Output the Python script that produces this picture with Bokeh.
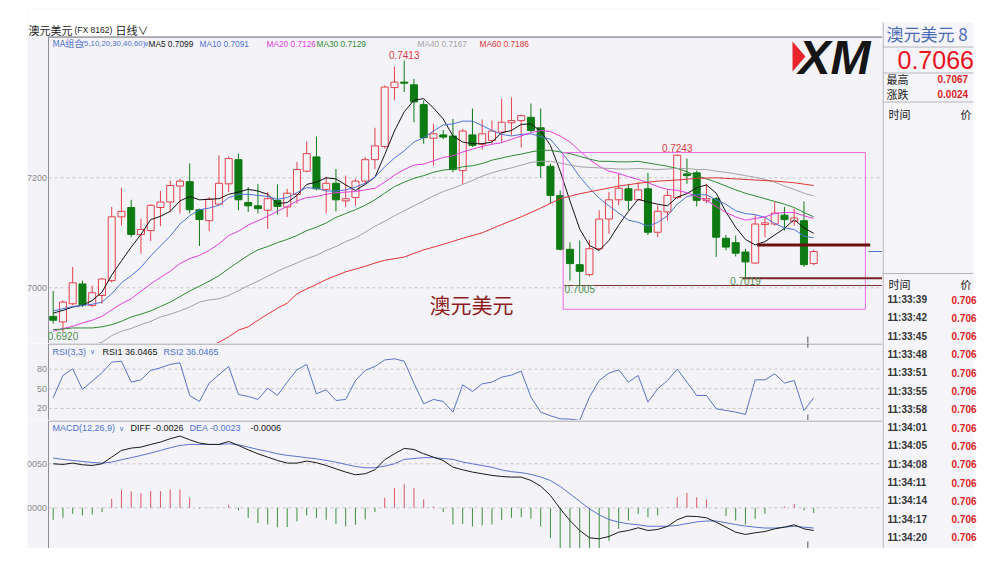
from bokeh.plotting import figure
from bokeh.models import Range1d, Spacer
from bokeh.layouts import row, column
from bokeh.core.properties import value
from bokeh.embed import file_html
from bokeh.resources import INLINE

# ---------------- data ----------------
OPEN = [0.6948, 0.6938, 0.6971, 0.7007, 0.6968, 0.6986, 0.7013, 0.7129, 0.7146, 0.7097,
        0.7104, 0.7146, 0.7156, 0.7185, 0.7193, 0.7142, 0.7122, 0.7152, 0.7189, 0.7233,
        0.7155, 0.7149, 0.7141, 0.7159, 0.7147, 0.7170, 0.7212, 0.7238, 0.7179, 0.7190,
        0.7158, 0.7164, 0.7194, 0.7233, 0.7257, 0.7364, 0.7374, 0.7369, 0.7333, 0.7272,
        0.7278, 0.7276, 0.7213, 0.7278, 0.7261, 0.7268, 0.7283, 0.7300, 0.7304, 0.7310,
        0.7291, 0.7221, 0.7168, 0.7070, 0.7042, 0.7024, 0.7071, 0.7125, 0.7160, 0.7180,
        0.7160, 0.7180, 0.7101, 0.7138, 0.7164, 0.7207, 0.7209, 0.7159, 0.7162, 0.7090,
        0.7082, 0.7065, 0.7045, 0.7115, 0.7116, 0.7132, 0.7121, 0.7122, 0.7044]
HIGH = [0.6994, 0.6977, 0.7038, 0.7013, 0.7004, 0.7018, 0.7147, 0.7182, 0.7160, 0.7126,
        0.7152, 0.7176, 0.7195, 0.7198, 0.7226, 0.7144, 0.7165, 0.7241, 0.7239, 0.7244,
        0.7183, 0.7189, 0.7174, 0.7188, 0.7180, 0.7229, 0.7266, 0.7275, 0.7202, 0.7216,
        0.7204, 0.7198, 0.7238, 0.7291, 0.7368, 0.7402, 0.7413, 0.7380, 0.7341, 0.7298,
        0.7287, 0.7307, 0.7289, 0.7326, 0.7306, 0.7304, 0.7344, 0.7346, 0.7315, 0.7335,
        0.7326, 0.7226, 0.7177, 0.7083, 0.7086, 0.7087, 0.7141, 0.7174, 0.7207, 0.7189,
        0.7192, 0.7209, 0.7150, 0.7177, 0.7243, 0.7235, 0.7213, 0.7189, 0.7165, 0.7096,
        0.7095, 0.7071, 0.7132, 0.7128, 0.7156, 0.7147, 0.7144, 0.7157, 0.7069]
LOW = [0.6935, 0.6920, 0.6968, 0.6965, 0.6965, 0.6971, 0.7010, 0.7113, 0.7092, 0.7062,
       0.7085, 0.7112, 0.7138, 0.7135, 0.7135, 0.7076, 0.7103, 0.7150, 0.7174, 0.7141,
       0.7138, 0.7135, 0.7107, 0.7133, 0.7129, 0.7153, 0.7210, 0.7177, 0.7135, 0.7139,
       0.7147, 0.7149, 0.7188, 0.7216, 0.7253, 0.7341, 0.7356, 0.7301, 0.7262, 0.7222,
       0.7270, 0.7210, 0.7189, 0.7256, 0.7251, 0.7262, 0.7265, 0.7277, 0.7255, 0.7283,
       0.7200, 0.7153, 0.7068, 0.7013, 0.7005, 0.7021, 0.7068, 0.7098, 0.7150, 0.7141,
       0.7159, 0.7096, 0.7092, 0.7122, 0.7162, 0.7189, 0.7148, 0.7154, 0.7056, 0.7068,
       0.7057, 0.7019, 0.7044, 0.7092, 0.7113, 0.7104, 0.7113, 0.7038, 0.7041]
CLOSE = [0.6941, 0.6974, 0.7009, 0.6969, 0.6991, 0.7016, 0.7129, 0.7139, 0.7097, 0.7106,
         0.7150, 0.7156, 0.7186, 0.7194, 0.7142, 0.7124, 0.7161, 0.7190, 0.7235, 0.7160,
         0.7149, 0.7144, 0.7162, 0.7148, 0.7172, 0.7215, 0.7244, 0.7180, 0.7190, 0.7160,
         0.7162, 0.7194, 0.7233, 0.7258, 0.7365, 0.7374, 0.7372, 0.7338, 0.7273, 0.7280,
         0.7274, 0.7215, 0.7285, 0.7259, 0.7280, 0.7285, 0.7301, 0.7304, 0.7313, 0.7286,
         0.7222, 0.7168, 0.7070, 0.7044, 0.7030, 0.7071, 0.7125, 0.7160, 0.7181, 0.7159,
         0.7178, 0.7101, 0.7139, 0.7168, 0.7241, 0.7204, 0.7159, 0.7162, 0.7092, 0.7074,
         0.7063, 0.7047, 0.7116, 0.7118, 0.7136, 0.7124, 0.7127, 0.7042, 0.7066]

MA5 = [0.6954, 0.6959, 0.6965, 0.6968, 0.6977, 0.6992, 0.7023, 0.7049, 0.7074, 0.7097,
       0.7124, 0.7130, 0.7139, 0.7158, 0.7166, 0.7160, 0.7161, 0.7162, 0.7170, 0.7174,
       0.7179, 0.7176, 0.7170, 0.7153, 0.7155, 0.7168, 0.7188, 0.7192, 0.7200, 0.7198,
       0.7187, 0.7177, 0.7188, 0.7201, 0.7242, 0.7285, 0.7320, 0.7341, 0.7344, 0.7327,
       0.7307, 0.7276, 0.7265, 0.7262, 0.7262, 0.7265, 0.7282, 0.7286, 0.7297, 0.7298,
       0.7285, 0.7259, 0.7212, 0.7158, 0.7107, 0.7077, 0.7068, 0.7086, 0.7114, 0.7139,
       0.7161, 0.7156, 0.7152, 0.7149, 0.7165, 0.7171, 0.7182, 0.7187, 0.7172, 0.7138,
       0.7110, 0.7088, 0.7078, 0.7084, 0.7096, 0.7108, 0.7124, 0.7109, 0.7099]
MA10 = [0.6958, 0.6962, 0.6966, 0.6968, 0.6970, 0.6974, 0.6989, 0.7009, 0.7022, 0.7037,
        0.7058, 0.7076, 0.7094, 0.7116, 0.7131, 0.7142, 0.7145, 0.7150, 0.7164, 0.7170,
        0.7170, 0.7168, 0.7166, 0.7161, 0.7164, 0.7173, 0.7182, 0.7181, 0.7176, 0.7176,
        0.7178, 0.7183, 0.7190, 0.7201, 0.7220, 0.7236, 0.7249, 0.7265, 0.7273, 0.7285,
        0.7296, 0.7298, 0.7303, 0.7303, 0.7295, 0.7286, 0.7279, 0.7276, 0.7279, 0.7280,
        0.7275, 0.7270, 0.7249, 0.7227, 0.7202, 0.7181, 0.7163, 0.7149, 0.7136, 0.7123,
        0.7119, 0.7112, 0.7119, 0.7131, 0.7152, 0.7166, 0.7169, 0.7169, 0.7160, 0.7152,
        0.7140, 0.7135, 0.7133, 0.7128, 0.7117, 0.7109, 0.7106, 0.7094, 0.7091]
MA20 = [0.6921, 0.6926, 0.6930, 0.6936, 0.6941, 0.6948, 0.6960, 0.6971, 0.6980, 0.6994,
        0.7007, 0.7019, 0.7030, 0.7044, 0.7053, 0.7059, 0.7068, 0.7080, 0.7095, 0.7103,
        0.7114, 0.7122, 0.7130, 0.7139, 0.7148, 0.7158, 0.7164, 0.7166, 0.7170, 0.7173,
        0.7174, 0.7175, 0.7178, 0.7181, 0.7192, 0.7205, 0.7215, 0.7223, 0.7225, 0.7231,
        0.7237, 0.7240, 0.7247, 0.7252, 0.7257, 0.7261, 0.7264, 0.7270, 0.7276, 0.7282,
        0.7286, 0.7284, 0.7276, 0.7265, 0.7249, 0.7233, 0.7221, 0.7212, 0.7208, 0.7202,
        0.7197, 0.7191, 0.7184, 0.7179, 0.7177, 0.7173, 0.7166, 0.7159, 0.7148, 0.7137,
        0.7129, 0.7123, 0.7126, 0.7129, 0.7135, 0.7137, 0.7137, 0.7131, 0.7126]
MA30 = [0.6924, 0.6925, 0.6927, 0.6927, 0.6927, 0.6929, 0.6933, 0.6939, 0.6947, 0.6952,
        0.6958, 0.6966, 0.6974, 0.6984, 0.6994, 0.7003, 0.7012, 0.7022, 0.7035, 0.7047,
        0.7059, 0.7069, 0.7075, 0.7082, 0.7088, 0.7095, 0.7104, 0.7110, 0.7118, 0.7128,
        0.7135, 0.7142, 0.7150, 0.7160, 0.7172, 0.7184, 0.7192, 0.7199, 0.7204, 0.7210,
        0.7214, 0.7216, 0.7220, 0.7222, 0.7226, 0.7232, 0.7236, 0.7240, 0.7243, 0.7247,
        0.7250, 0.7250, 0.7247, 0.7244, 0.7239, 0.7234, 0.7230, 0.7230, 0.7229, 0.7229,
        0.7230, 0.7227, 0.7224, 0.7221, 0.7217, 0.7211, 0.7204, 0.7198, 0.7192, 0.7185,
        0.7178, 0.7172, 0.7167, 0.7162, 0.7157, 0.7152, 0.7146, 0.7137, 0.7129]
MA40_START = 4
MA40 = [0.6896, 0.6901, 0.6913, 0.6921, 0.6926, 0.6933,
        0.6939, 0.6947, 0.6952, 0.6958, 0.6965, 0.6974, 0.6978, 0.6980, 0.6986, 0.6995,
        0.7004, 0.7012, 0.7021, 0.7030, 0.7038, 0.7045, 0.7053, 0.7059, 0.7068, 0.7075,
        0.7084, 0.7091, 0.7101, 0.7112, 0.7121, 0.7131, 0.7140, 0.7149, 0.7158, 0.7167,
        0.7175, 0.7181, 0.7188, 0.7195, 0.7203, 0.7209, 0.7214, 0.7218, 0.7223, 0.7228,
        0.7230, 0.7230, 0.7227, 0.7223, 0.7220, 0.7219, 0.7218, 0.7217, 0.7216, 0.7216,
        0.7217, 0.7216, 0.7215, 0.7216, 0.7217, 0.7217, 0.7215, 0.7215, 0.7212, 0.7210,
        0.7207, 0.7204, 0.7201, 0.7197, 0.7192, 0.7185, 0.7179, 0.7172, 0.7167]
MA60_X = [16, 17, 18, 19, 20, 21, 22, 23, 24, 25, 26, 27, 28, 29, 30, 31, 32, 33, 34,
          36, 38, 40, 42, 44, 46, 48, 50, 52, 54, 56, 58, 60, 62, 64, 66, 68, 70, 72,
          74, 76, 78]
MA60 = [0.6893, 0.6901, 0.6911, 0.6923, 0.6929, 0.6941, 0.6952, 0.6963, 0.6972, 0.6989,
        0.6998, 0.7006, 0.7015, 0.7022, 0.7029, 0.7034, 0.7039, 0.7045, 0.7050,
        0.7056, 0.7069, 0.7079, 0.7090, 0.7100, 0.7115, 0.7129, 0.7145, 0.7162, 0.7171,
        0.7178, 0.7185, 0.7190, 0.7194, 0.7196, 0.7199, 0.7200, 0.7198, 0.7196, 0.7194,
        0.7191, 0.7186]
MA_NAMES = ["MA5", "MA10", "MA20", "MA30", "MA40", "MA60"]
MA_LAST = ["0.7099", "0.7091", "0.7126", "0.7129", "0.7167", "0.7186"]

RSI = [36.3, 70.4, 80.5, 49.0, 61.7, 74.4, 90.7, 92.2, 60.2, 63.7,
       78.0, 82.0, 87.2, 89.7, 39.8, 30.7, 58.7, 71.4, 84.1, 41.3,
       38.3, 33.7, 51.0, 39.8, 60.2, 79.0, 87.2, 42.4, 48.5, 32.2,
       33.7, 62.7, 78.0, 84.1, 94.0, 95.8, 92.2, 58.7, 27.1, 33.7,
       30.7, 14.4, 56.1, 45.9, 57.6, 60.2, 67.8, 70.9, 77.0, 37.3,
       14.4, 8.8, 4.2, 3.7, 1.7, 37.3, 62.7, 73.9, 79.0, 60.2,
       70.4, 29.6, 50.0, 62.7, 80.0, 60.2, 39.8, 39.8, 19.5, 16.9,
       14.4, 10.8, 63.7, 63.7, 72.9, 58.7, 62.7, 16.9, 36.05]

DIFF = [0.00500, 0.00493, 0.00508, 0.00489, 0.00481, 0.00500, 0.00576, 0.00652, 0.00678, 0.00690,
        0.00720, 0.00747, 0.00785, 0.00815, 0.00773, 0.00735, 0.00720, 0.00720, 0.00754, 0.00709,
        0.00659, 0.00614, 0.00576, 0.00538, 0.00508, 0.00508, 0.00531, 0.00512, 0.00481, 0.00443,
        0.00406, 0.00375, 0.00387, 0.00432, 0.00546, 0.00614, 0.00675, 0.00663, 0.00614, 0.00576,
        0.00538, 0.00462, 0.00432, 0.00406, 0.00387, 0.00368, 0.00356, 0.00349, 0.00349, 0.00311,
        0.00246, 0.00140, -0.00011, -0.00144, -0.00258, -0.00341, -0.00352, -0.00326, -0.00277, -0.00258,
        -0.00227, -0.00258, -0.00246, -0.00212, -0.00136, -0.00095, -0.00099, -0.00114, -0.00163, -0.00220,
        -0.00277, -0.00303, -0.00284, -0.00269, -0.00239, -0.00220, -0.00193, -0.00239, -0.00258]
DEA = [0.00565, 0.00550, 0.00538, 0.00527, 0.00515, 0.00508, 0.00519, 0.00546, 0.00569, 0.00595,
       0.00622, 0.00652, 0.00682, 0.00709, 0.00720, 0.00720, 0.00720, 0.00720, 0.00728, 0.00716,
       0.00690, 0.00663, 0.00640, 0.00614, 0.00595, 0.00584, 0.00569, 0.00557, 0.00538, 0.00519,
       0.00493, 0.00470, 0.00455, 0.00455, 0.00474, 0.00500, 0.00550, 0.00560, 0.00570, 0.00570,
       0.00560, 0.00550, 0.00520, 0.00500, 0.00480, 0.00460, 0.00430, 0.00410, 0.00400, 0.00380,
       0.00350, 0.00310, 0.00243, 0.00159, 0.00072, -0.00011, -0.00080, -0.00133, -0.00163, -0.00182,
       -0.00193, -0.00210, -0.00210, -0.00210, -0.00200, -0.00180, -0.00160, -0.00150, -0.00150, -0.00170,
       -0.00190, -0.00208, -0.00220, -0.00230, -0.00230, -0.00220, -0.00210, -0.00220, -0.00230]
MACD_HIST = [-0.00136, -0.00114, -0.00068, -0.00087, -0.00076, -0.00049, 0.00102, 0.00205, 0.00186, 0.00167,
             0.00190, 0.00190, 0.00208, 0.00208, 0.00114, -0.00008, 0.00004, 0.00000, 0.00034, -0.00030,
             -0.00114, -0.00174, -0.00190, -0.00220, -0.00220, -0.00155, -0.00087, -0.00117, -0.00136, -0.00182,
             -0.00212, -0.00193, -0.00133, -0.00049, 0.00114, 0.00227, 0.00273, 0.00227, 0.00095, 0.00015,
             -0.00049, -0.00190, -0.00182, -0.00212, -0.00201, -0.00190, -0.00136, -0.00114, -0.00106, -0.00125,
             -0.00212, -0.00341, -0.00510, -0.00610, -0.00660, -0.00660, -0.00540, -0.00379, -0.00239, -0.00144,
             -0.00068, -0.00106, -0.00087, 0.00005, 0.00121, 0.00171, 0.00121, 0.00095, -0.00005, -0.00095,
             -0.00144, -0.00190, -0.00125, -0.00068, 0.00003, 0.00015, 0.00045, -0.00030, -0.00060]

PRICE_TICKS = [0.70, 0.72]
PRICE_TICK_LABELS = ["7000", "7200"]
RSI_TICKS = [20, 50, 80]
RSI_TICK_LABELS = ["20", "50", "80"]
MACD_TICKS = [0.0, 0.005]
MACD_TICK_LABELS = ["0000", "0050"]

# marked extremes: candle index, text
HIGH_MARKS = [(36, "0.7413"), (64, "0.7243")]
LOW_MARKS = [(1, "0.6920"), (54, "0.7005"), (71, "0.7019")]

# user drawn objects (candle index / price)
BOX_X = [52.3, 83.3]
BOX_PRICE = [0.6961, 0.7246]
SUPPORT_PRICE = [0.7078, 0.70175, 0.70042]
SUPPORT_FROM = [72.2, 70.7, 52.4]
SUPPORT_TO = [83.8, None, None]
LAST_PRICE = 0.7066
CURSOR_IDX = 77.4

TIMES = ["11:33:39", "11:33:42", "11:33:45", "11:33:48", "11:33:51", "11:33:55", "11:33:58",
         "11:34:01", "11:34:05", "11:34:08", "11:34:11", "11:34:14", "11:34:17", "11:34:20"]
TICK_PRICES = ["0.706"] * len(TIMES)

# ---------------- styling / geometry ----------------
BG = "#f4f4f8"
UP = "#e4404c"
DOWN = "#0d7a12"
AXIS_C = "#8e8e94"
GRID_C = "#c4c4cc"
LBL_C = "#8a8a8a"
BLUE = "#4f72cf"
MA_COLORS = ["#141414", "#4f72d8", "#e23ee2", "#2f8a2f", "#a3a3a3", "#e23434"]
LATIN = value("Liberation Sans")
CJK = value("Noto Sans CJK SC")

W_LEFT = 855
CANDLE0_PX, STEP_PX = 52.7, 9.75


def xpx(px):
    return (px - CANDLE0_PX) / STEP_PX


def main_y(py):
    return 0.72 - (py - 177.3) / 5500.0


def rsi_y(py):
    return 50.0 - (py - 388.3) / 0.655


def macd_y(py):
    return (507.3 - py) / 8800.0


X_START, X_END = xpx(27), xpx(882)
AXIS_X = xpx(48)
x_range = Range1d(X_START, X_END)
N = len(CLOSE)
IDX = list(range(N))


def blank(width, height, xr, yr, bg):
    return figure(width=width, height=height, x_range=xr, y_range=yr,
                  output_backend="svg", toolbar_location=None,
                  x_axis_type=None, y_axis_type=None,
                  min_border=0, min_border_left=0, min_border_right=0,
                  min_border_top=0, min_border_bottom=0,
                  background_fill_color=bg, border_fill_color=bg, outline_line_color=None)


def panel(height, y_bottom, y_top, y_axis_top):
    p = blank(W_LEFT, height, x_range, Range1d(y_bottom, y_top), BG)
    p.segment(x0=[AXIS_X], x1=[AXIS_X], y0=[y_bottom], y1=[y_axis_top], line_color=AXIS_C)
    p.segment(x0=[AXIS_X], x1=[X_END], y0=[y_axis_top], y1=[y_axis_top], line_color=AXIS_C)
    return p


def ticks(p, vals, labels):
    p.segment(x0=[AXIS_X] * len(vals), x1=[X_END] * len(vals), y0=vals, y1=vals,
              line_color=GRID_C, line_dash="3 3", line_width=1)
    p.text(x=[AXIS_X] * len(vals), y=vals, text=labels, x_offset=-1.5, text_align="right",
           text_baseline="middle", text_font=LATIN, text_font_size="9px", text_color=LBL_C)


def legend(p, xs_px, y, texts, colors, fonts, sizes):
    for xp, t, c, f, s in zip(xs_px, texts, colors, fonts, sizes):
        p.text(x=[xpx(xp)], y=[y], text=[t], text_align="left", text_baseline="middle",
               text_font=f, text_font_size=s, text_color=c)


# ---------------- main price panel (with the title bar on top) ----------------
main = panel(335, main_y(343), main_y(8), main_y(36.5))
main.quad(left=[X_START], right=[X_END], bottom=[main_y(36)], top=[main_y(8)],
          fill_color="white", line_color=None)
main.segment(x0=[AXIS_X], x1=[X_END], y0=[main_y(36.5)], y1=[main_y(36.5)], line_color=AXIS_C)
legend(main, [28, 74, 115], main_y(29), ["澳元美元", "(FX 8162)", "日线∨"],
       ["#222222"] * 3, [CJK, LATIN, CJK], ["11px", "8.5px", "11px"])
ticks(main, PRICE_TICKS, PRICE_TICK_LABELS)

is_up = [c >= o for o, c in zip(OPEN, CLOSE)]
col = [UP if u else DOWN for u in is_up]
fill = [BG if u else DOWN for u in is_up]
main.segment(x0=IDX, x1=IDX, y0=HIGH, y1=LOW, line_color=col, line_width=1)
main.vbar(x=IDX, width=0.72, top=[max(o, c) for o, c in zip(OPEN, CLOSE)],
          bottom=[min(o, c) for o, c in zip(OPEN, CLOSE)],
          fill_color=fill, line_color=col, line_width=1)

ma_series = [(IDX, MA5), (IDX, MA10), (IDX, MA20), (IDX, MA30),
             (list(range(MA40_START, MA40_START + len(MA40))), MA40), (MA60_X, MA60)]
for (xs, ys), c in zip(ma_series, MA_COLORS):
    main.line(xs, ys, line_color=c, line_width=1)

# user drawn box & lines
main.quad(left=[BOX_X[0]], right=[BOX_X[1]], bottom=[BOX_PRICE[0]], top=[BOX_PRICE[1]],
          fill_alpha=0, line_color="#e86ce8", line_width=1)
widths = [3, 2, 1.2]
lcols = ["#6e1010", "#7a2222", "#7e3030"]
for lv, a, b, w, c in zip(SUPPORT_PRICE, SUPPORT_FROM, SUPPORT_TO, widths, lcols):
    main.segment(x0=[a], x1=[b if b is not None else X_END], y0=[lv], y1=[lv],
                 line_color=c, line_width=w)
main.segment(x0=[xpx(868)], x1=[X_END], y0=[LAST_PRICE], y1=[LAST_PRICE],
             line_color=BLUE, line_width=1)

# extreme labels
main.text(x=[i for i, _ in HIGH_MARKS], y=[HIGH[i] for i, _ in HIGH_MARKS],
          text=[t for _, t in HIGH_MARKS], y_offset=-2, text_align="center",
          text_baseline="bottom", text_font=LATIN, text_font_size="10px", text_color="#e03a44")
main.text(x=[i for i, _ in LOW_MARKS], y=[LOW[i] for i, _ in LOW_MARKS],
          text=[t for _, t in LOW_MARKS], y_offset=0, text_align="center",
          text_baseline="top", text_font=LATIN, text_font_size="10px", text_color="#4f8c4f")

# watermark title
main.text(x=[xpx(471)], y=[main_y(303)], text=["澳元美元"], text_align="center",
          text_baseline="middle", text_font=CJK, text_font_size="21px", text_color="#8e1b1b")

# XM logo
main.patch(x=[xpx(792), xpx(805), xpx(792)], y=[main_y(41), main_y(56), main_y(71)],
           fill_color="#e8262c", line_color=None)
main.text(x=[xpx(798)], y=[main_y(57)], text=["XM"], text_align="left",
          text_baseline="middle", text_font=LATIN, text_font_style="bold italic",
          text_font_size="48px", text_color="#151515")

# legend
legend(main, [52, 81, 143], main_y(43), ["MA组合", "(5,10,20,30,40,60)", "∨"],
       [BLUE, BLUE, BLUE], [CJK, LATIN, LATIN], ["9px", "7.8px", "7px"])
legend(main, [148, 199, 266, 316, 417, 479], main_y(43),
       [n + " " + v for n, v in zip(MA_NAMES, MA_LAST)], MA_COLORS, [LATIN] * 6,
       ["8.3px"] * 6)

# cursor tick
main.segment(x0=[CURSOR_IDX], x1=[CURSOR_IDX], y0=[main_y(336)], y1=[main_y(343)],
             line_color="#555555")

# ---------------- RSI panel ----------------
rsi = panel(77, rsi_y(420), rsi_y(343), rsi_y(343.5))
ticks(rsi, RSI_TICKS, RSI_TICK_LABELS)
rsi.line(IDX, RSI, line_color="#5a72c8", line_width=1)
legend(rsi, [52, 89, 102, 163], rsi_y(351),
       ["RSI(3,3)", "∨", "RSI1 36.0465", "RSI2 36.0465"], [BLUE, BLUE, "#141414", BLUE],
       [LATIN] * 4, ["9px", "7px", "9px", "9px"])
rsi.segment(x0=[CURSOR_IDX] * 2, x1=[CURSOR_IDX] * 2, y0=[rsi_y(343), rsi_y(414)],
            y1=[rsi_y(347), rsi_y(420)], line_color="#555555")

# ---------------- MACD panel ----------------
macd = panel(128, macd_y(548), macd_y(420), macd_y(420.5))
ticks(macd, MACD_TICKS, MACD_TICK_LABELS)
hcol = ["#e05564" if h >= 0 else "#3f8f3f" for h in MACD_HIST]
macd.segment(x0=IDX, x1=IDX, y0=[0] * N, y1=MACD_HIST, line_color=hcol, line_width=1)
macd.line(IDX, DEA, line_color="#5a72d0", line_width=1)
macd.line(IDX, DIFF, line_color="#1a1a1a", line_width=1)
legend(macd, [52, 118, 130, 189, 250], macd_y(427.5),
       ["MACD(12,26,9)", "∨", "DIFF -0.0026", "DEA -0.0023", "-0.0006"],
       [BLUE, BLUE, "#141414", BLUE, "#141414"], [LATIN] * 5,
       ["9px", "7px", "9px", "9px", "9px"])
macd.segment(x0=[CURSOR_IDX], x1=[CURSOR_IDX], y0=[macd_y(541)], y1=[macd_y(548)],
             line_color="#555555")

# ---------------- right quote panel ----------------
RP_W = 106
rp = blank(RP_W, 540, Range1d(0, RP_W), Range1d(540, 0), "white")
rp.quad(left=[0], right=[91], top=[14], bottom=[540], fill_color="#f5f5f9", line_color=None)
rp.segment(x0=[0.5], x1=[0.5], y0=[14], y1=[540], line_color="#9a9aa0")
rp.segment(x0=[0] * 4, x1=[91] * 4, y0=[38.5, 64.5, 93.5, 265], y1=[38.5, 64.5, 93.5, 265],
           line_color="#b4b4ba")
rp.text(x=[4], y=[25], text=["澳元美元 8"], text_font=CJK, text_font_size="17px",
        text_color="#4d6cb6", text_baseline="middle")
rp.text(x=[15], y=[51], text=["0.7066"], text_font=LATIN, text_font_size="25px",
        text_color="#e8141c", text_baseline="middle")
rp.text(x=[4, 4], y=[70, 85], text=["最高", "涨跌"], text_font=CJK, text_font_size="11px",
        text_color="#222222", text_baseline="middle")
rp.text(x=[55, 55], y=[70, 85], text=["0.7067", "0.0024"], text_font=LATIN,
        text_font_style="bold", text_font_size="10px", text_color="#e01e26",
        text_baseline="middle")
rp.text(x=[6, 78, 6, 78], y=[105, 105, 275, 275], text=["时间", "价", "时间", "价"],
        text_font=CJK, text_font_size="11px", text_color="#222222", text_baseline="middle")
row_y = [291 + 18.3 * k for k in range(len(TIMES))]
rp.text(x=[5] * len(TIMES), y=row_y, text=TIMES, text_font=LATIN, text_font_style="bold",
        text_font_size="10px", text_color="#333333", text_baseline="middle")
rp.text(x=[69] * len(TIMES), y=row_y, text=TICK_PRICES, text_font=LATIN,
        text_font_style="bold", text_font_size="10px", text_color="#e01e26",
        text_baseline="middle")

layout = column(Spacer(width=988, height=8),
                row(Spacer(width=27, height=540), column(main, rsi, macd), rp))

with open("out.html", "w") as f:
    f.write(file_html(layout, INLINE))
